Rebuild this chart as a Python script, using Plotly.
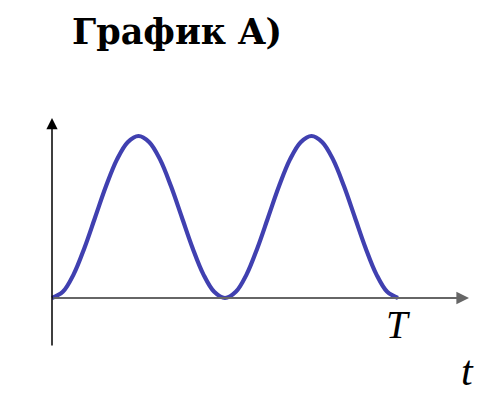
import plotly.graph_objects as go

# Data (t in units of T, signal normalised to peak = 1)
t_values = [0.0, 0.03125, 0.0625, 0.09375, 0.125, 0.15625, 0.1875, 0.21875, 0.25,
            0.28125, 0.3125, 0.34375, 0.375, 0.40625, 0.4375, 0.46875, 0.5,
            0.53125, 0.5625, 0.59375, 0.625, 0.65625, 0.6875, 0.71875, 0.75,
            0.78125, 0.8125, 0.84375, 0.875, 0.90625, 0.9375, 0.96875, 1.0]
y_values = [0.0, 0.038, 0.146, 0.309, 0.5, 0.691, 0.854, 0.962, 1.0,
            0.962, 0.854, 0.691, 0.5, 0.309, 0.146, 0.038, 0.0,
            0.038, 0.146, 0.309, 0.5, 0.691, 0.854, 0.962, 1.0,
            0.962, 0.854, 0.691, 0.5, 0.309, 0.146, 0.038, 0.0]

title_text = "<b>График A)</b>"
period_label = "T"
time_label = "t"

W, H = 496, 403
OFF = 8  # page body margin
x0_px, x1_px = 52 - OFF, 398 - OFF      # t=0 and t=T
y0_px, y1_px = 298 - OFF, 136 - OFF     # y=0 and y=1
sx = (x1_px - x0_px)
sy = (y0_px - y1_px)
x_range = [-x0_px / sx, (W - x0_px) / sx]
y_range = [-(H - y0_px) / sy, y0_px / sy]

def px_x(p):
    return (p - OFF - x0_px) / sx

def px_y(p):
    return (y0_px - (p - OFF)) / sy

fig = go.Figure()
fig.add_trace(go.Scatter(
    x=t_values, y=y_values, mode="lines",
    line=dict(color="#4040b0", width=4.2, shape="spline", smoothing=1.0),
    hoverinfo="skip", showlegend=False,
))

serif = "DejaVu Serif, Liberation Serif, serif"
lib = "Liberation Serif, DejaVu Serif, serif"
annotations = [
    # horizontal axis
    dict(x=px_x(469), y=0, ax=px_x(52), ay=0, xref="x", yref="y",
         axref="x", ayref="y", showarrow=True, arrowhead=2, arrowsize=1.4,
         arrowwidth=1.8, arrowcolor="#666666", text=""),
    # vertical axis
    dict(x=0, y=px_y(118), ax=0, ay=px_y(347), xref="x", yref="y",
         axref="x", ayref="y", showarrow=True, arrowhead=2, arrowsize=1.5,
         arrowwidth=1.5, arrowcolor="#000000", text=""),
    dict(x=1.0, y=px_y(324), xref="x", yref="y", text="<i>" + period_label + "</i>",
         showarrow=False, font=dict(family=lib, size=39, color="#000000")),
    dict(x=px_x(467), y=px_y(371), xref="x", yref="y", text="<i>" + time_label + "</i>",
         showarrow=False, font=dict(family=lib, size=42, color="#000000")),
    dict(x=px_x(177), y=px_y(31), xref="x", yref="y", text=title_text,
         showarrow=False, borderpad=0,
         font=dict(family=serif, size=35, color="#000000")),
]

fig.update_layout(
    width=W, height=H,
    margin=dict(l=0, r=0, t=0, b=0),
    paper_bgcolor="white", plot_bgcolor="white",
    xaxis=dict(range=x_range, visible=False, fixedrange=True),
    yaxis=dict(range=y_range, visible=False, fixedrange=True),
    annotations=annotations,
    showlegend=False,
)

fig.write_html("out.html")
